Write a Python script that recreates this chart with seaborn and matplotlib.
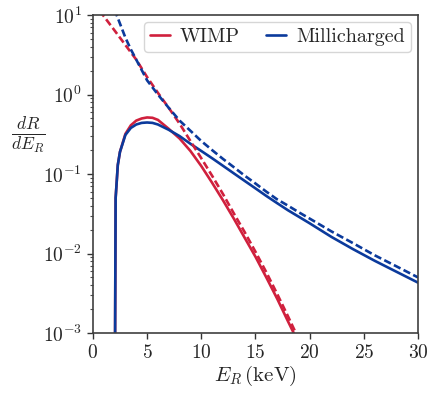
"""dR/dE_R spectra: WIMP vs Millicharged, with and without efficiency."""

import matplotlib
matplotlib.use("Agg")
import matplotlib.pyplot as plt
import numpy as np
import pandas as pd
import seaborn as sns

# ── data ────────────────────────────────────────────────────
# solid: with detection efficiency (threshold near 2 keV)
E_SOLID = [2.0, 2.1, 2.3, 2.5, 3.0, 3.5, 4.0, 4.5, 5.0, 5.5, 6.0, 7.0, 8.0, 9.0,
           10.0, 11.0, 12.0, 13.0, 14.0, 15.0, 16.0, 17.0, 18.0, 19.0, 20.0,
           22.0, 24.0, 26.0, 28.0, 30.0]
WIMP_SOLID = [2e-5, 0.05, 0.13, 0.19, 0.32, 0.41, 0.47, 0.50, 0.515, 0.51, 0.48,
              0.37, 0.28, 0.195, 0.126, 0.0776, 0.0468, 0.0275, 0.0158, 0.0091,
              0.0050, 0.0027, 0.0014, 0.00074, 0.00038, 1e-4, 3e-5, 1e-5,
              3e-6, 1e-6]
MILLI_SOLID = [2e-5, 0.05, 0.13, 0.19, 0.31, 0.38, 0.42, 0.44, 0.445, 0.44, 0.42,
               0.36, 0.30, 0.24, 0.195, 0.158, 0.127, 0.102, 0.082, 0.066,
               0.053, 0.043, 0.035, 0.029, 0.024, 0.0162, 0.01135, 0.0081,
               0.0059, 0.0043]

# dashed: raw spectra
E_WIMP_DASH = [0.0, 1.0, 2.0, 3.0, 4.0, 5.0, 6.0, 7.0, 8.0, 9.0, 10.0, 11.0,
               12.0, 13.0, 14.0, 15.0, 16.0, 17.0, 18.0, 19.0, 20.0]
WIMP_DASH = [14.5, 9.7, 6.4, 4.2, 2.75, 1.66, 1.05, 0.68, 0.43, 0.26, 0.158,
             0.095, 0.056, 0.032, 0.0186, 0.0105, 0.0058, 0.0031, 0.00162,
             0.00083, 0.0004]
E_MILLI_DASH = [1.5, 2.0, 2.5, 3.0, 3.5, 4.0, 5.0, 6.0, 7.0, 8.0, 9.0, 10.0,
                11.0, 12.0, 13.0, 14.0, 15.0, 16.0, 17.0, 18.0, 19.0, 20.0,
                22.0, 24.0, 26.0, 28.0, 30.0]
MILLI_DASH = [20.0, 11.7, 7.8, 5.2, 3.7, 2.75, 1.51, 1.0, 0.68, 0.47, 0.35, 0.26,
              0.20, 0.155, 0.122, 0.0955, 0.076, 0.060, 0.048, 0.040, 0.033,
              0.0275, 0.019, 0.0135, 0.0095, 0.0069, 0.0050]

RED = "#D0203D"
BLUE = "#0B3A9C"

sns.set_theme(style="ticks")
plt.rcParams["font.family"] = ["cmr10", "DejaVu Serif"]
plt.rcParams["mathtext.fontset"] = "cm"
plt.rcParams["axes.formatter.use_mathtext"] = True
plt.rcParams["axes.unicode_minus"] = False

fig = plt.figure(figsize=(4.36, 3.96), dpi=100)
ax = fig.add_axes([0.213, 0.159, 0.746, 0.803])

LW = 1.9
sns.lineplot(x=E_SOLID, y=WIMP_SOLID, ax=ax, color=RED, lw=LW, label="WIMP")
sns.lineplot(x=E_SOLID, y=MILLI_SOLID, ax=ax, color=BLUE, lw=LW,
             label="Millicharged")
sns.lineplot(x=E_WIMP_DASH, y=WIMP_DASH, ax=ax, color=RED, lw=LW)
sns.lineplot(x=E_MILLI_DASH, y=MILLI_DASH, ax=ax, color=BLUE, lw=LW)
for line in ax.lines[2:]:
    line.set_dashes((2.8, 1.3))

ax.set_yscale("log")
ax.set_xlim(0, 30)
ax.set_ylim(1e-3, 10)
ax.set_xticks([0, 5, 10, 15, 20, 25, 30])

ax.tick_params(axis="both", which="major", labelsize=14, length=4.5,
               width=1.0, color="0.2")
ax.tick_params(axis="y", which="minor", length=2.5, width=0.8, color="0.3")
for sp in ax.spines.values():
    sp.set_color("0.25")
    sp.set_linewidth(1.2)

ax.set_xlabel(r"$E_R\,(\mathrm{keV})$", fontsize=15, labelpad=1)
ax.set_ylabel(r"$\frac{dR}{dE_R}$", fontsize=18, rotation=0)
ax.yaxis.set_label_coords(-0.2, 0.56)

ax.legend(loc="upper right", ncol=2, fontsize=14.5, handlelength=1.0,
          columnspacing=1.3, handletextpad=0.5, borderaxespad=0.35,
          borderpad=0.3, fancybox=True, framealpha=0.8, edgecolor="0.8")

fig.savefig("out.png", dpi=100)
